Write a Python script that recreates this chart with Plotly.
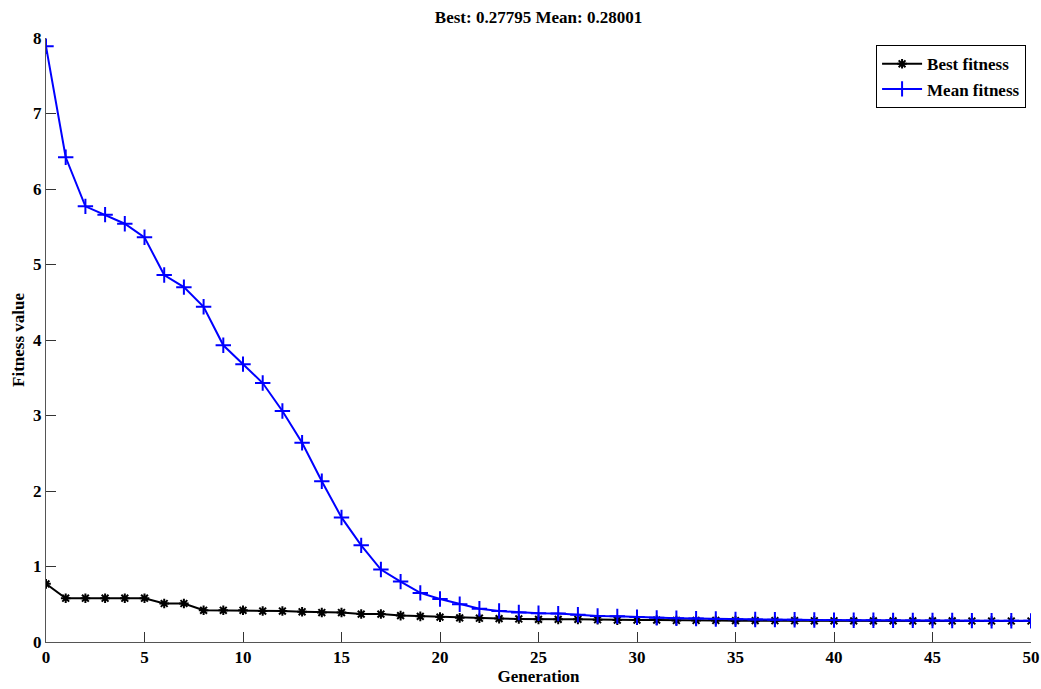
import plotly.graph_objects as go

generations = list(range(51))
best_fitness = [0.77, 0.58, 0.58, 0.58, 0.58, 0.58, 0.51, 0.51, 0.42, 0.42,
                0.42, 0.41, 0.41, 0.40, 0.39, 0.39, 0.37, 0.37, 0.35, 0.34,
                0.33, 0.32, 0.315, 0.31, 0.305, 0.30, 0.30, 0.30, 0.295, 0.29,
                0.29, 0.29, 0.285, 0.285, 0.285, 0.283, 0.283, 0.282, 0.282, 0.281,
                0.281, 0.28, 0.28, 0.28, 0.279, 0.279, 0.279, 0.278, 0.278, 0.278,
                0.27795]
mean_fitness = [7.89, 6.42, 5.77, 5.66, 5.54, 5.36, 4.86, 4.70, 4.44, 3.93,
                3.68, 3.43, 3.06, 2.64, 2.13, 1.65, 1.28, 0.96, 0.80, 0.65,
                0.57, 0.50, 0.44, 0.41, 0.39, 0.38, 0.376, 0.36, 0.345, 0.34,
                0.33, 0.32, 0.315, 0.31, 0.305, 0.30, 0.298, 0.296, 0.294, 0.292,
                0.29, 0.289, 0.288, 0.287, 0.286, 0.285, 0.284, 0.283, 0.282, 0.281,
                0.28001]
x_ticks = [0, 5, 10, 15, 20, 25, 30, 35, 40, 45, 50]
y_ticks = [0, 1, 2, 3, 4, 5, 6, 7, 8]

FONT = "Liberation Serif"

fig = go.Figure()
fig.add_trace(go.Scatter(
    x=generations, y=best_fitness, mode="lines+markers", name="<b>Best fitness</b>",
    line=dict(color="black", width=2),
    marker=dict(symbol="asterisk-open", size=8, color="black",
                line=dict(color="black", width=2)),
))
fig.add_trace(go.Scatter(
    x=generations, y=mean_fitness, mode="lines+markers", name="<b>Mean fitness</b>",
    line=dict(color="#0000ff", width=2),
    marker=dict(symbol="cross-thin-open", size=11, color="#0000ff",
                line=dict(color="#0000ff", width=2)),
))

fig.update_layout(
    width=1041, height=689,
    margin=dict(l=46, r=10, t=38, b=47),
    paper_bgcolor="white", plot_bgcolor="white",
    font=dict(family=FONT, size=17, color="black"),
    title=dict(text="<b>Best: 0.27795 Mean: 0.28001</b>", x=0.5, xref="paper", xanchor="center",
               y=0.975, yanchor="middle", font=dict(family=FONT, size=17, color="black")),
    showlegend=True,
    legend=dict(x=0.995, y=0.988, xanchor="right", yanchor="top",
                bordercolor="black", borderwidth=1, bgcolor="white",
                font=dict(family=FONT, size=17, color="black"),
                tracegroupgap=0, itemwidth=40),
    xaxis=dict(range=[0, 50], tickvals=x_ticks, ticktext=[f"<b>{v}</b>" for v in x_ticks],
               showgrid=False, zeroline=False, showline=True, linecolor="#555", linewidth=1,
               ticks="inside", ticklen=10, tickcolor="#333", mirror=False, automargin=False,
               tickfont=dict(family=FONT, size=17, color="black"),
               title=dict(text="<b>Generation</b>", standoff=0,
                          font=dict(family=FONT, size=17, color="black"))),
    yaxis=dict(range=[0, 8], tickvals=y_ticks, ticktext=[f"<b>{v}</b>" for v in y_ticks],
               showgrid=False, zeroline=False, showline=True, linecolor="#555", linewidth=1,
               ticks="inside", ticklen=10, tickcolor="#333", mirror=False, automargin=False,
               tickfont=dict(family=FONT, size=17, color="black"),
               title=dict(text="<b>Fitness value</b>", standoff=4,
                          font=dict(family=FONT, size=17, color="black"))),
)

fig.write_html("out.html")
